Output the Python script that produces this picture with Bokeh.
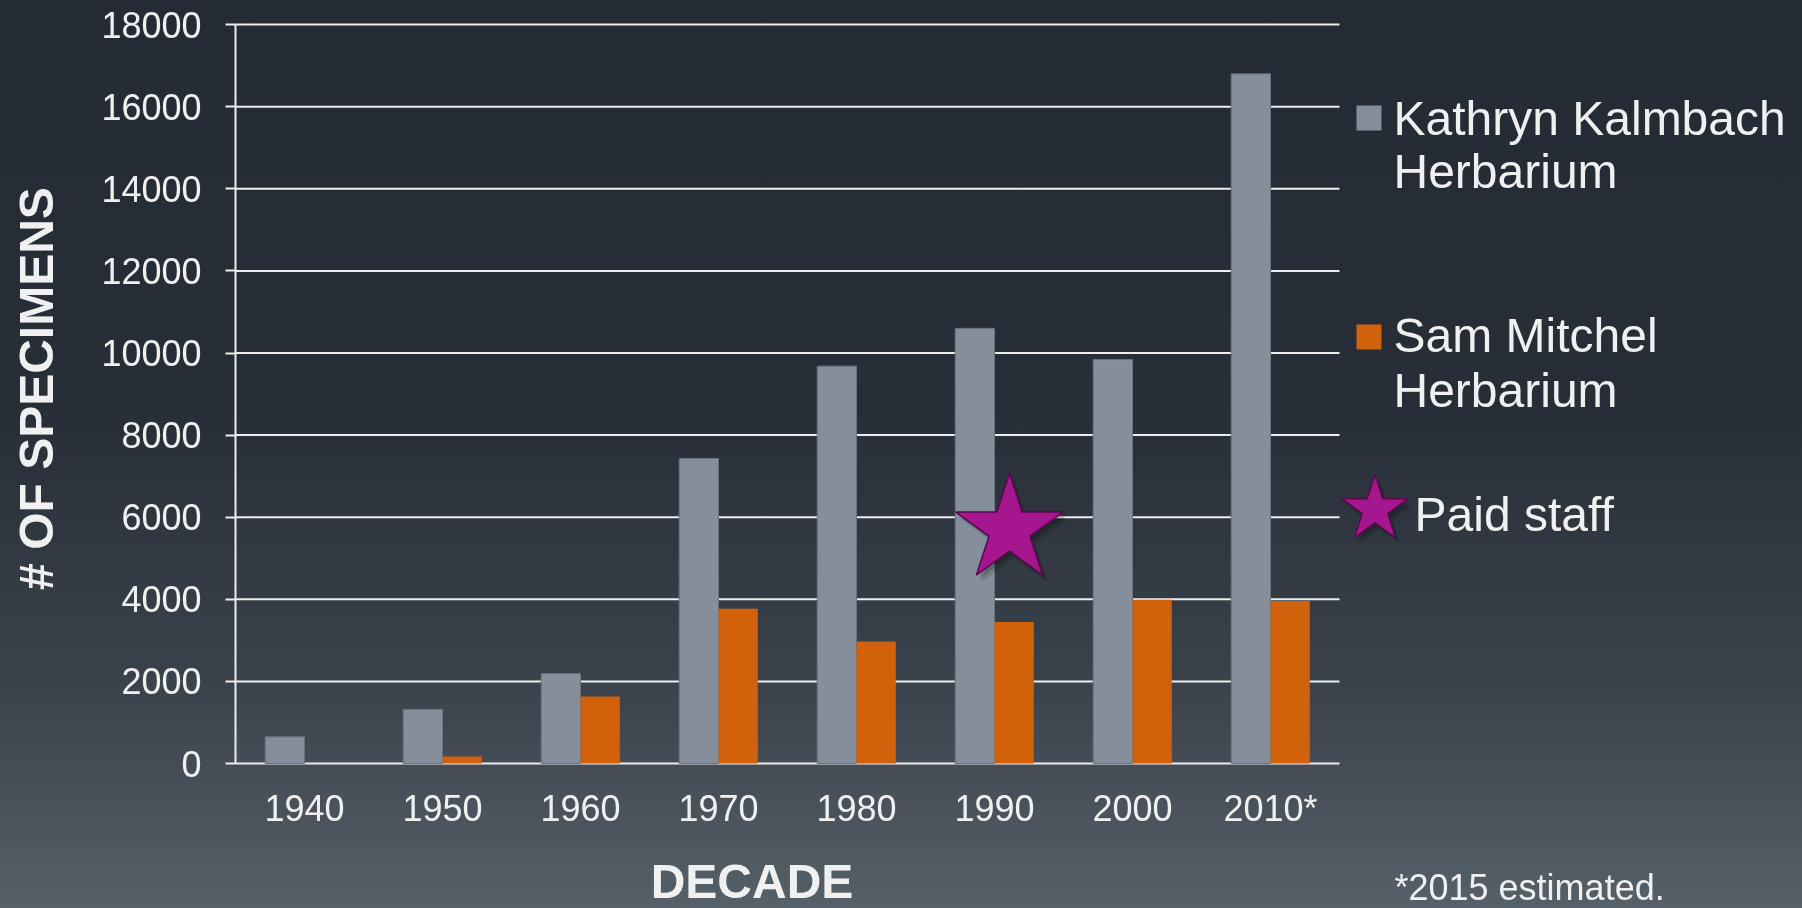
import math
import numpy as np
from bokeh.plotting import figure
from bokeh.models import Range1d, FixedTicker, Label, NumeralTickFormatter, InlineStyleSheet
from bokeh.embed import file_html
from bokeh.resources import INLINE

# ---------------- data ----------------
decades = ["1940", "1950", "1960", "1970", "1980", "1990", "2000", "2010*"]
kalmbach_specimens = [650, 1320, 2190, 7430, 9680, 10600, 9840, 16800]
mitchel_specimens = [0, 170, 1630, 3770, 2970, 3450, 3990, 3960]
y_ticks = [0, 2000, 4000, 6000, 8000, 10000, 12000, 14000, 16000, 18000]
series_kalmbach = ["Kathryn Kalmbach", "Herbarium"]
series_mitchel = ["Sam Mitchel", "Herbarium"]
paid_staff_decade = "1990"
paid_staff_level = 5700
paid_staff_label = "Paid staff"
x_title = "DECADE"
y_title = "# OF SPECIMENS"
footnote = "*2015 estimated."

# ---------------- layout (pixels) ----------------
W, H = 1802, 908
AXIS_X = 235          # x of the y axis
ZERO_Y = 763          # y of value 0
CAT_PX = 138.0        # pixels per decade
UNIT_PX = 82.1 / 2000 # pixels per specimen
Y_END = ZERO_Y / UNIT_PX
Y_START = -(H - ZERO_Y) / UNIT_PX
BORDER_R = 5
X_AXIS_POS = 0.5                       # data x where the y axis sits
X_START = X_AXIS_POS - AXIS_X / CAT_PX
X_END = X_AXIS_POS + (W - BORDER_R - AXIS_X) / CAT_PX


def px2x(px):
    return X_AXIS_POS + (px - AXIS_X) / CAT_PX


def py2y(py):
    return (ZERO_Y - py) / UNIT_PX


TXT = "#f0f0f0"
GRID = "#ededed"
GRAY = "#858e9b"
ORANGE = "#d1610b"
MAGENTA = "#a6168f"
STAR_EDGE = "#560a4b"
FONT = "Liberation Sans"

p = figure(width=W, height=H, x_range=Range1d(X_START, X_END), y_range=Range1d(Y_START, Y_END),
           output_backend="svg", toolbar_location=None, title=None,
           min_border_left=0, min_border_right=BORDER_R,
           min_border_top=0, min_border_bottom=0)
p.background_fill_color = None
p.border_fill_color = None
p.outline_line_color = None
p.xgrid.visible = False
p.ygrid.visible = False

css = (":host::before { content: ''; position: fixed; left: 0; top: 0; width: 100vw; height: 100vh;"
       " z-index: -1; background: linear-gradient(to bottom, #252b34 0%, #272e37 45%, #3a424b 75%, #566069 100%); }")
p.stylesheets = [InlineStyleSheet(css=css)]

pos = np.arange(1, len(decades) + 1)

# horizontal grid lines (from the y tick list), ending after the last decade
p.segment(x0=X_AXIS_POS, x1=pos[-1] + 0.5, y0=y_ticks, y1=y_ticks, line_color=GRID, line_width=2)

bar_w = 39.3 / CAT_PX
p.vbar(x=pos - bar_w / 2, top=kalmbach_specimens, bottom=0, width=bar_w,
       fill_color=GRAY, line_color="#69737f", line_width=1)
p.vbar(x=pos + bar_w / 2, top=mitchel_specimens, bottom=0, width=bar_w,
       fill_color=ORANGE, line_color=None)


def star(x, y, size):
    for dx, dy, a in ((5, 7, 0.12), (3, 4, 0.18)):
        p.scatter(x=[x + dx / CAT_PX], y=[y - dy / UNIT_PX], marker="star", size=size,
                  fill_color="black", fill_alpha=a, line_color=None)
    p.scatter(x=[x], y=[y], marker="star", size=size,
              fill_color=MAGENTA, line_color=STAR_EDGE, line_width=1.5)


# paid staff star
star(pos[decades.index(paid_staff_decade)] + 15 / CAT_PX, paid_staff_level, 113)

# legend markers
p.scatter(x=[px2x(1368.5)], y=[py2y(117.5)], marker="square", size=25, fill_color=GRAY, line_color=None)
p.scatter(x=[px2x(1368.5)], y=[py2y(336.5)], marker="square", size=25, fill_color=ORANGE, line_color=None)
star(px2x(1374.5), py2y(509), 70)


def add_label(text, px, baseline_py, size, bold=False, align="left"):
    fix = 16.5 * size / 48.0
    p.add_layout(Label(x=px2x(px), y=py2y(baseline_py - fix), text=text, text_font=FONT,
                       text_font_size=f"{size}px", text_color=TXT, text_align=align,
                       text_baseline="alphabetic", text_font_style="bold" if bold else "normal"))


add_label(series_kalmbach[0], 1393, 134, 48)
add_label(series_kalmbach[1], 1393, 187, 48)
add_label(series_mitchel[0], 1393, 351, 48)
add_label(series_mitchel[1], 1393, 406, 48)
add_label(paid_staff_label, 1414, 530, 48)
add_label(x_title, 751.5, 897, 48, bold=True, align="center")
add_label(footnote, 1394, 899, 36)

# vertical axis title (baseline at x=52, centred at y=388)
p.add_layout(Label(x=px2x(52 - 16.5), y=py2y(388), text=y_title, angle=math.pi / 2,
                   text_font=FONT, text_font_size="48px", text_font_style="bold",
                   text_color=TXT, text_align="center", text_baseline="alphabetic"))

# axes
yax = p.yaxis[0]
yax.fixed_location = X_AXIS_POS
yax.ticker = FixedTicker(ticks=y_ticks)
yax.bounds = (y_ticks[0], y_ticks[-1])
yax.formatter = NumeralTickFormatter(format="0")
yax.major_tick_out = 10
yax.major_tick_in = 0
yax.major_tick_line_color = GRID
yax.major_tick_line_width = 2
yax.minor_tick_line_color = None
yax.axis_line_color = GRID
yax.axis_line_width = 2
yax.major_label_text_font = FONT
yax.major_label_text_font_size = "36px"
yax.major_label_text_color = TXT
yax.major_label_standoff = 24

xax = p.xaxis[0]
xax.fixed_location = 0
xax.ticker = FixedTicker(ticks=[int(v) for v in pos])
xax.major_label_overrides = {int(v): d for v, d in zip(pos, decades)}
xax.axis_line_color = None
xax.major_tick_line_color = None
xax.minor_tick_line_color = None
xax.major_tick_out = 0
xax.major_label_text_font = FONT
xax.major_label_text_font_size = "36px"
xax.major_label_text_color = TXT
xax.major_label_standoff = 24

open("out.html", "w").write(file_html(p, INLINE))
